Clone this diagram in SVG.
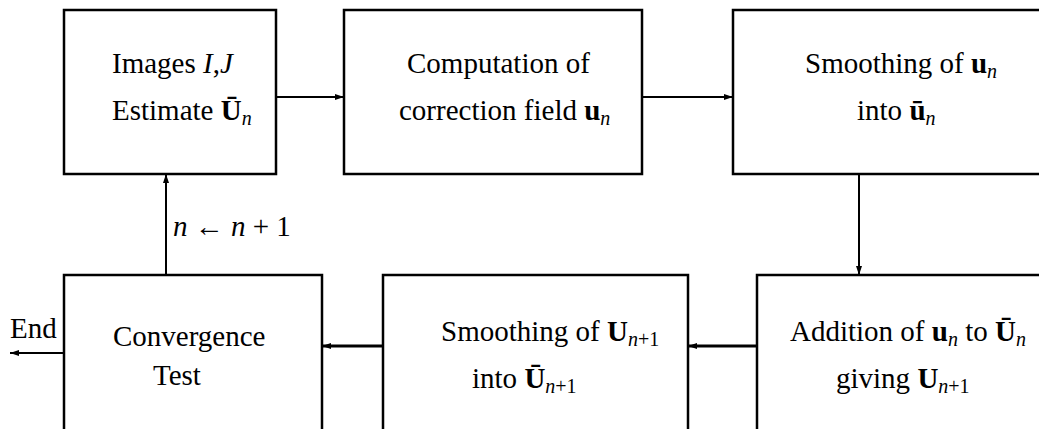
<svg xmlns="http://www.w3.org/2000/svg" width="1039" height="429" viewBox="0 0 1039 429">
<style>
.box{fill:#fff;stroke:#000;stroke-width:2.5}
.t{font-family:'Liberation Serif','Times New Roman','DejaVu Serif',serif;font-size:29px;fill:#000}
.i{font-style:italic}
.b{font-weight:bold}
.s{font-size:20px;font-style:italic}
.c{stroke:#000;stroke-width:2;fill:none}
.ct{stroke:#000;stroke-width:3;fill:none}
</style>
<defs>
<marker id="ah" markerUnits="userSpaceOnUse" markerWidth="10" markerHeight="8" refX="9" refY="4" orient="auto">
<path d="M0,1 L9,4 L0,7 z" fill="#000"/>
</marker>
</defs>
<rect width="1039" height="429" fill="#fff"/>
<g id="connectors">
<line class="c" x1="276" y1="97" x2="344" y2="97" marker-end="url(#ah)"/>
<line class="c" x1="642" y1="97" x2="733" y2="97" marker-end="url(#ah)"/>
<line class="c" x1="859" y1="174" x2="859" y2="275" marker-end="url(#ah)"/>
<line class="ct" x1="757" y1="346" x2="688" y2="346" marker-end="url(#ah)"/>
<line class="ct" x1="383" y1="346" x2="322" y2="346" marker-end="url(#ah)"/>
<line class="c" x1="64" y1="353" x2="10" y2="353" marker-end="url(#ah)"/>
<line class="c" x1="166" y1="275" x2="166" y2="174" marker-end="url(#ah)"/>
<text class="t" x="173" y="236"><tspan class="i">n</tspan> ← <tspan class="i">n</tspan> + 1</text>
<text class="t" x="10" y="338">End</text>
</g>
<g id="n1">
<rect class="box" x="64" y="10" width="212" height="164"/>
<text class="t" x="112" y="73">Images <tspan class="i">I</tspan>,<tspan class="i">J</tspan></text>
<text class="t" x="112" y="120">Estimate <tspan class="b">Ū</tspan><tspan class="s" dy="5">n</tspan></text>
</g>
<g id="n2">
<rect class="box" x="344" y="10" width="298" height="164"/>
<text class="t" x="407" y="73">Computation of</text>
<text class="t" x="399" y="120">correction field <tspan class="b">u</tspan><tspan class="s" dy="5">n</tspan></text>
</g>
<g id="n3">
<rect class="box" x="733" y="10" width="320" height="164"/>
<text class="t" x="805" y="73">Smoothing of <tspan class="b">u</tspan><tspan class="s" dy="5">n</tspan></text>
<text class="t" x="857" y="120">into <tspan class="b">ū</tspan><tspan class="s" dy="5">n</tspan></text>
</g>
<g id="n4">
<rect class="box" x="757" y="275" width="300" height="170"/>
<text class="t" x="790" y="341">Addition of <tspan class="b">u</tspan><tspan class="s" dy="5">n</tspan><tspan dy="-5"> to </tspan><tspan class="b">Ū</tspan><tspan class="s" dy="5">n</tspan></text>
<text class="t" x="836" y="388">giving <tspan class="b">U</tspan><tspan class="s" dy="5">n</tspan><tspan font-size="20px">+1</tspan></text>
</g>
<g id="n5">
<rect class="box" x="383" y="275" width="305" height="170"/>
<text class="t" x="441" y="341">Smoothing of <tspan class="b">U</tspan><tspan class="s" dy="5">n</tspan><tspan font-size="20px">+1</tspan></text>
<text class="t" x="472" y="388">into <tspan class="b">Ū</tspan><tspan class="s" dy="5">n</tspan><tspan font-size="20px">+1</tspan></text>
</g>
<g id="n6">
<rect class="box" x="64" y="275" width="258" height="170"/>
<text class="t" x="113" y="346">Convergence</text>
<text class="t" x="153" y="385">Test</text>
</g>
</svg>
